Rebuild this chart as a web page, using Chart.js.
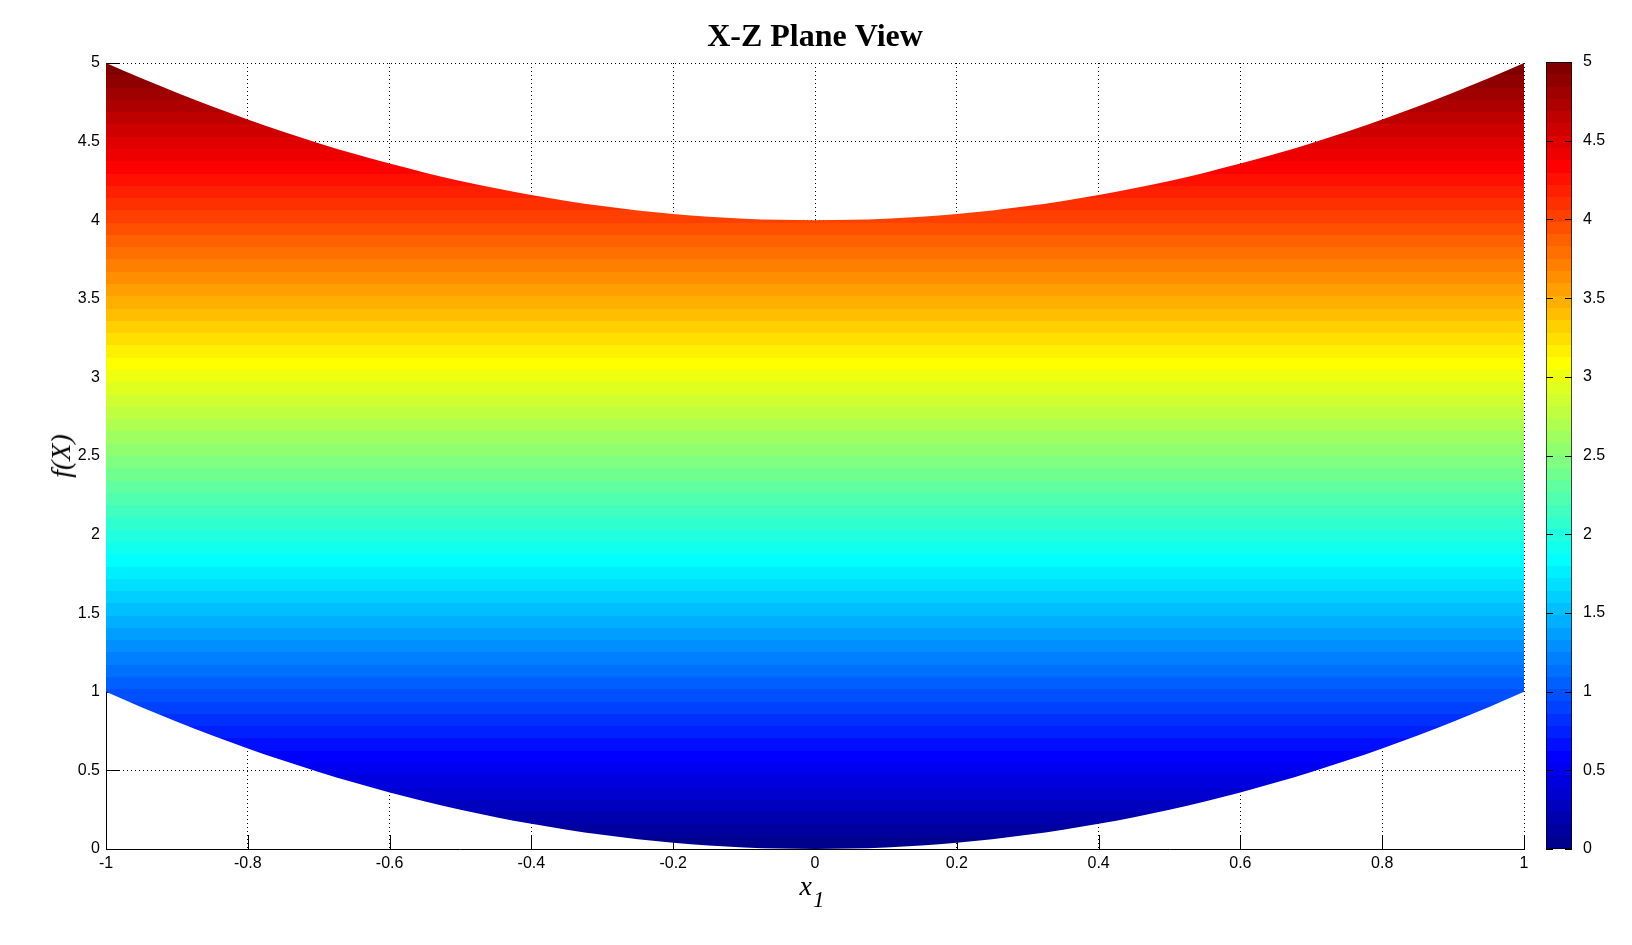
<!DOCTYPE html>
<html>
<head>
<meta charset="utf-8">
<title>X-Z Plane View</title>
<script src="https://cdn.jsdelivr.net/npm/chart.js@4"></script>
<style>
    body { margin: 0; background: #fff; }
    #wrap { position: relative; width: 1632px; height: 945px; overflow: hidden; }
    #main-chart { position: absolute; left: 0; top: 0; }
    #colorbar-chart { position: absolute; left: 1520px; top: 0; }
    .axis-label {
        position: absolute;
        font-family: 'Liberation Serif', 'Times New Roman', serif;
        font-style: italic;
        font-size: 28px;
        line-height: 28px;
        color: #000;
        white-space: nowrap;
    }
    #x-label { left: 812px; top: 872px; transform: translateX(-50%); }
    #x-label span { font-size: 23px; position: relative; top: 12px; margin-left: 1px; }
    #y-label { left: 61px; top: 456px; transform: translate(-50%, -50%) rotate(-90deg); }
</style>
</head>
<body>
<div id="wrap">
    <canvas id="main-chart" width="1632" height="945"></canvas>
    <canvas id="colorbar-chart" width="112" height="945"></canvas>
    <div class="axis-label" id="x-label">x<span>1</span></div>
    <div class="axis-label" id="y-label">f(X)</div>
</div>
<script>
// values
const x1Values = [-1, -0.95, -0.9, -0.85, -0.8, -0.75, -0.7, -0.65, -0.6, -0.55, -0.5,
                  -0.45, -0.4, -0.35, -0.3, -0.25, -0.2, -0.15, -0.1, -0.05, 0,
                  0.05, 0.1, 0.15, 0.2, 0.25, 0.3, 0.35, 0.4, 0.45, 0.5,
                  0.55, 0.6, 0.65, 0.7, 0.75, 0.8, 0.85, 0.9, 0.95, 1];
const lowerValues = [1, 0.9025, 0.81, 0.7225, 0.64, 0.5625, 0.49, 0.4225, 0.36, 0.3025, 0.25,
                     0.2025, 0.16, 0.1225, 0.09, 0.0625, 0.04, 0.0225, 0.01, 0.0025, 0,
                     0.0025, 0.01, 0.0225, 0.04, 0.0625, 0.09, 0.1225, 0.16, 0.2025, 0.25,
                     0.3025, 0.36, 0.4225, 0.49, 0.5625, 0.64, 0.7225, 0.81, 0.9025, 1];
const upperValues = [5, 4.9025, 4.81, 4.7225, 4.64, 4.5625, 4.49, 4.4225, 4.36, 4.3025, 4.25,
                     4.2025, 4.16, 4.1225, 4.09, 4.0625, 4.04, 4.0225, 4.01, 4.0025, 4,
                     4.0025, 4.01, 4.0225, 4.04, 4.0625, 4.09, 4.1225, 4.16, 4.2025, 4.25,
                     4.3025, 4.36, 4.4225, 4.49, 4.5625, 4.64, 4.7225, 4.81, 4.9025, 5];
const xTicks = { min: -1, max: 1, step: 0.2 };
const zTicks = { min: 0, max: 5, step: 0.5 };
const colorLevels = 64;

const tickFont = { family: "'Liberation Sans', Arial, sans-serif", size: 16 };
const tickLabel = value => String(Number(value.toFixed(2)));

window.addEventListener('load', function () {
    planeView();
    colorBar();
})


// JET COLORMAP (matlab style, stepped)
function jetColor(k) {
    const n = colorLevels / 4;
    const u = j => (j < 1 || j > 3 * n - 1) ? 0 : j <= n ? j / n : j <= 2 * n - 1 ? 1 : (3 * n - j) / n;
    const r = u(k - 3 * n / 2), g = u(k - n / 2), b = u(k + n / 2);
    return `rgb(${Math.round(r * 255)}, ${Math.round(g * 255)}, ${Math.round(b * 255)})`;
}

function jetGradient(chart) {
    const yScale = chart.scales.y;
    if (!chart.chartArea || !yScale) return null;
    const y0 = yScale.getPixelForValue(zTicks.min);
    const y1 = yScale.getPixelForValue(zTicks.max);
    const grad = chart.ctx.createLinearGradient(0, y0, 0, y1);
    for (let k = 0; k < colorLevels; k++) {
        const c = jetColor(k + 1);
        grad.addColorStop(k / colorLevels, c);
        grad.addColorStop((k + 1) / colorLevels, c);
    }
    return grad;
}

function line(ctx, x1, y1, x2, y2) {
    ctx.beginPath();
    ctx.moveTo(x1, y1);
    ctx.lineTo(x2, y2);
    ctx.stroke();
}

// PLANE VIEW CHART
function planeView() {
    // ticks pointing into the axes, hidden under the surface like in matlab
    const inwardTicks = {
        id: 'inwardTicks',
        beforeDatasetsDraw(chart) {
            const { ctx, chartArea, scales } = chart;
            const len = 14;
            ctx.save();
            ctx.strokeStyle = '#000';
            ctx.lineWidth = 1;
            scales.x.ticks.forEach(t => {
                const px = Math.round(scales.x.getPixelForValue(t.value)) + 0.5;
                line(ctx, px, chartArea.bottom, px, chartArea.bottom - len);
            });
            scales.y.ticks.forEach(t => {
                const py = Math.round(scales.y.getPixelForValue(t.value)) + 0.5;
                line(ctx, chartArea.left, py, chartArea.left + len, py);
            });
            ctx.restore();
        }
    };

    const ctx = document.getElementById('main-chart').getContext('2d');
    new Chart(ctx, {
        type: 'line',
        data: {
            datasets: [{
                label: 'lower',
                data: x1Values.map((x, i) => ({ x: x, y: lowerValues[i] })),
                borderColor: 'rgba(0,0,0,0)',
                borderWidth: 0,
                pointRadius: 0,
                cubicInterpolationMode: 'monotone',
                fill: false
            }, {
                label: 'f(X)',
                data: x1Values.map((x, i) => ({ x: x, y: upperValues[i] })),
                borderColor: 'rgba(0,0,0,0)',
                borderWidth: 0,
                pointRadius: 0,
                cubicInterpolationMode: 'monotone',
                fill: '-1',
                backgroundColor: context => jetGradient(context.chart)
            }]
        },
        options: {
            responsive: false,
            animation: false,
            layout: {
                padding: { left: 0, top: 0, right: 108, bottom: 56 }
            },
            plugins: {
                legend: { display: false },
                tooltip: { enabled: false },
                title: {
                    display: true,
                    fullSize: false,
                    text: 'X-Z Plane View',
                    color: '#000',
                    font: { family: "'Liberation Serif', 'Times New Roman', serif", size: 32, weight: 'bold' },
                    padding: { top: 19, bottom: 5.6 }
                }
            },
            scales: {
                x: {
                    type: 'linear',
                    min: xTicks.min,
                    max: xTicks.max,
                    afterFit: scale => { scale.height = 40; },
                    ticks: { stepSize: xTicks.step, padding: 5, color: '#000', font: tickFont, maxRotation: 0, callback: tickLabel },
                    grid: { color: '#000', lineWidth: 1, drawTicks: false },
                    border: { display: true, color: '#000', width: 1, dash: [1, 3] }
                },
                y: {
                    min: zTicks.min,
                    max: zTicks.max,
                    afterFit: scale => { scale.width = 106; },
                    ticks: { stepSize: zTicks.step, padding: 6, color: '#000', font: tickFont, callback: tickLabel },
                    grid: { color: '#000', lineWidth: 1, drawTicks: false },
                    border: { display: true, color: '#000', width: 1, dash: [1, 3] }
                }
            }
        },
        plugins: [inwardTicks]
    });
}

// COLORBAR
function colorBar() {
    const barTicks = {
        id: 'barTicks',
        afterDatasetsDraw(chart) {
            const { ctx, chartArea, scales } = chart;
            const len = 7;
            ctx.save();
            ctx.strokeStyle = '#000';
            ctx.lineWidth = 1;
            scales.y.ticks.forEach(t => {
                const py = Math.round(scales.y.getPixelForValue(t.value)) + 0.5;
                line(ctx, chartArea.left, py, chartArea.left + len, py);
                line(ctx, chartArea.right - len, py, chartArea.right, py);
            });
            ctx.restore();
        }
    };

    const ctx = document.getElementById('colorbar-chart').getContext('2d');
    new Chart(ctx, {
        type: 'bar',
        data: {
            labels: ['f(X)'],
            datasets: [{
                data: [[zTicks.min, zTicks.max]],
                backgroundColor: context => jetGradient(context.chart),
                borderColor: '#000',
                borderWidth: 1,
                borderSkipped: false,
                barPercentage: 1,
                categoryPercentage: 1
            }]
        },
        options: {
            responsive: false,
            animation: false,
            layout: {
                padding: { left: 26, top: 62, right: 0, bottom: 96 }
            },
            plugins: {
                legend: { display: false },
                tooltip: { enabled: false }
            },
            scales: {
                x: { display: false },
                y: {
                    position: 'right',
                    min: zTicks.min,
                    max: zTicks.max,
                    afterFit: scale => { scale.width = 60; },
                    ticks: { stepSize: zTicks.step, padding: 3, color: '#000', font: tickFont, callback: tickLabel },
                    grid: { display: false },
                    border: { display: false }
                }
            }
        },
        plugins: [barTicks]
    });
}
</script>
</body>
</html>
